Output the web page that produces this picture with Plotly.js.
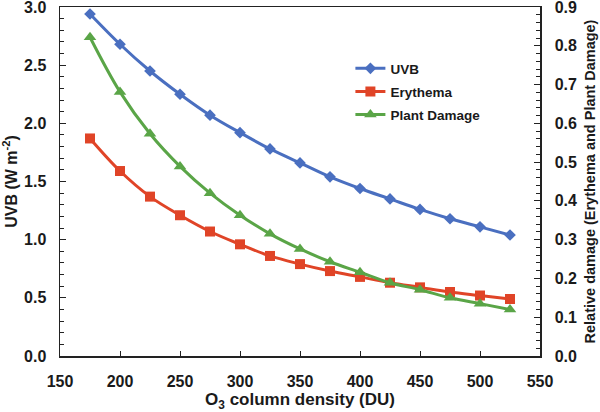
<!DOCTYPE html>
<html>
<head>
<meta charset="utf-8">
<script src="https://cdn.plot.ly/plotly-3.0.1.min.js"></script>
<style>html,body{margin:0;padding:0;background:#fff;}#chart{width:600px;height:412px;}</style>
</head>
<body>
<div id="chart"></div>
<script>
const ozone = [175, 200, 225, 250, 275, 300, 325, 350, 375, 400, 425, 450, 475, 500, 525];
const uvb = [2.94, 2.68, 2.45, 2.25, 2.07, 1.92, 1.78, 1.66, 1.54, 1.44, 1.35, 1.26, 1.18, 1.11, 1.04];
const erythema = [0.561, 0.477, 0.411, 0.363, 0.321, 0.288, 0.258, 0.237, 0.219, 0.204, 0.189, 0.177, 0.165, 0.156, 0.147];
const plantDamage = [0.822, 0.681, 0.573, 0.489, 0.420, 0.363, 0.315, 0.276, 0.243, 0.216, 0.189, 0.171, 0.150, 0.135, 0.120];
const seriesNames = ['UVB', 'Erythema', 'Plant Damage'];

const fam = 'Liberation Sans, Arial, sans-serif';
const ink = '#1a1a1a';
const traces = [
  {x: ozone, y: uvb, name: seriesNames[0], legendgroup: 'a', type: 'scatter', mode: 'lines+markers', yaxis: 'y',
   line: {color: '#4A6FC0', width: 3, shape: 'spline'}, marker: {symbol: 'diamond', size: 9, color: '#4A6FC0'}},
  {x: ozone, y: erythema, name: seriesNames[1], legendgroup: 'b', type: 'scatter', mode: 'lines+markers', yaxis: 'y2',
   line: {color: '#E04427', width: 3, shape: 'spline'}, marker: {symbol: 'square', size: 10, color: '#E04427'}},
  {x: ozone, y: plantDamage, name: seriesNames[2], legendgroup: 'c', type: 'scatter', mode: 'lines+markers', yaxis: 'y2',
   line: {color: '#5AA547', width: 3, shape: 'spline'}, marker: {symbol: 'triangle-up', size: 11, color: '#5AA547'}}
];

const layout = {
  width: 600, height: 412,
  margin: {l: 60, r: 60, t: 7, b: 56},
  paper_bgcolor: '#fff', plot_bgcolor: '#fff',
  font: {family: fam, color: ink},
  showlegend: true,
  legend: {x: 0.605, y: 0.868, xanchor: 'left', yanchor: 'top', bgcolor: 'rgba(0,0,0,0)',
           font: {family: fam, size: 13.5, color: ink, weight: 'bold'}, tracegroupgap: 2.5, itemwidth: 30},
  xaxis: {
    range: [150, 550], dtick: 50, tick0: 150, showgrid: false, zeroline: false,
    showline: true, linecolor: '#222', linewidth: 1.5, mirror: true,
    ticks: 'inside', ticklen: 5, tickcolor: '#222', ticklabelstandoff: 10, ticklabeloverflow: 'allow',
    tickfont: {family: fam, size: 16, color: ink, weight: 'bold'},
    title: {text: 'O<sub>3</sub> column density (DU)', font: {family: fam, size: 17, color: ink, weight: 'bold'}, standoff: 6}
  },
  yaxis: {
    range: [0, 3], dtick: 0.5, tickformat: '.1f', showgrid: false, zeroline: false,
    showline: true, linecolor: '#222', linewidth: 1.5,
    ticks: 'inside', ticklen: 6, tickcolor: '#222', ticklabelstandoff: 9, ticklabeloverflow: 'allow',
    minor: {dtick: 0.1, ticks: 'inside', ticklen: 4, tickcolor: '#222'},
    tickfont: {family: fam, size: 16, color: ink, weight: 'bold'},
    title: {text: 'UVB (W m<sup>-2</sup>)', font: {family: fam, size: 16, color: ink, weight: 'bold'}, standoff: 4}
  },
  yaxis2: {
    range: [0, 0.9], dtick: 0.1, tickformat: '.1f', overlaying: 'y', side: 'right',
    showgrid: false, zeroline: false, showline: true, linecolor: '#222', linewidth: 1.5,
    ticks: 'inside', ticklen: 6, tickcolor: '#222', ticklabelstandoff: 10, ticklabeloverflow: 'allow',
    minor: {dtick: 0.02, ticks: 'inside', ticklen: 4, tickcolor: '#222'},
    tickfont: {family: fam, size: 16, color: ink, weight: 'bold'},
    title: {text: 'Relative damage (Erythema and Plant Damage)', font: {family: fam, size: 14.5, color: ink, weight: 'bold'}, standoff: 9}
  }
};

Plotly.newPlot('chart', traces, layout, {displayModeBar: false, staticPlot: true});
</script>
</body>
</html>
